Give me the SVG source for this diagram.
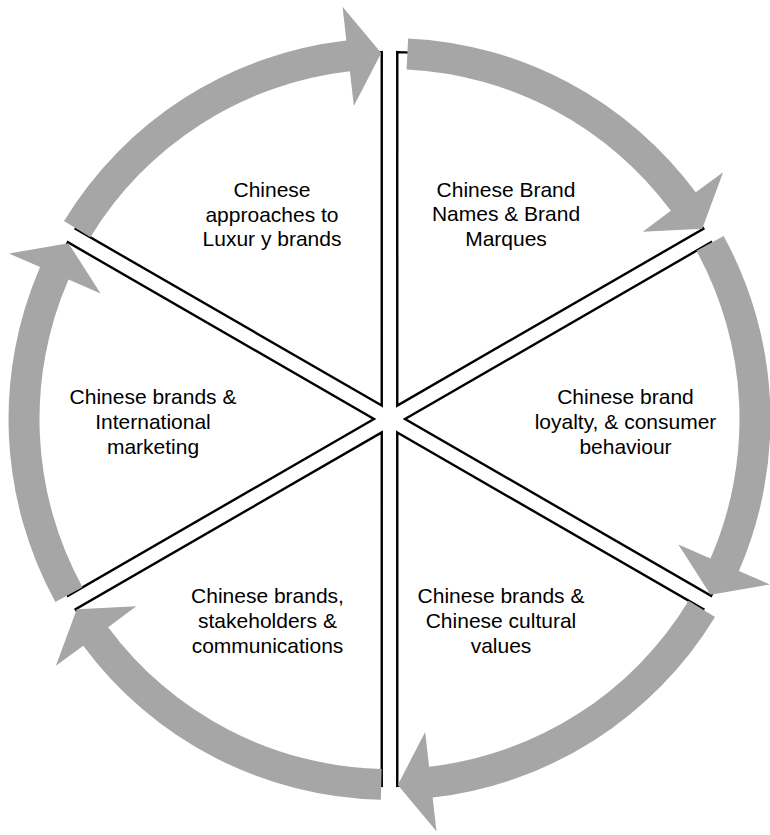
<svg xmlns="http://www.w3.org/2000/svg" xmlns:xlink="http://www.w3.org/1999/xlink" width="770" height="835" viewBox="0 0 770 835">
<style>
.sec{fill:none;stroke:#000;stroke-width:2.4;stroke-linejoin:miter}
.arr{fill:#a6a6a6;stroke:none}
text{font-family:"Liberation Sans",Arial,sans-serif;font-size:21px;fill:#000;text-anchor:middle}
</style>
<defs>
<path id="wedge" d="M13.42,-7.75 L190.17,-313.88 A367 367 0 0 1 366.92,-7.75 Z"/>
<path id="arrow" d="M197.9,-325.5 A381 381 0 0 1 378.55,-43.13 L412.33,-46.98 L365.91,-8.30 L312.97,-35.66 L347.75,-39.62 A350 350 0 0 0 181.8,-299.1 Z"/>
<path id="arrowB" d="M206.4,-320.3 A381 381 0 0 1 378.55,-43.13 L412.33,-46.98 L365.91,-8.30 L312.97,-35.66 L347.75,-39.62 A350 350 0 0 0 189.6,-294.2 Z"/>
</defs>
<rect width="770" height="835" fill="#fff"/>
<g id="sector-luxury">
<use xlink:href="#wedge" class="sec" transform="translate(389.5 419) rotate(-90)"/>
<text x="272" y="197">Chinese</text>
<text x="272" y="222">approaches to</text>
<text x="272" y="246">Luxur y brands</text>
</g>
<g id="sector-brand-names">
<use xlink:href="#wedge" class="sec" transform="translate(389.5 419) rotate(-30)"/>
<text x="506" y="197">Chinese Brand</text>
<text x="506" y="221">Names &amp; Brand</text>
<text x="506" y="246">Marques</text>
</g>
<g id="sector-loyalty">
<use xlink:href="#wedge" class="sec" transform="translate(389.5 419) rotate(30)"/>
<text x="625.5" y="404">Chinese brand</text>
<text x="625.5" y="428.5">loyalty, &amp; consumer</text>
<text x="625.5" y="454">behaviour</text>
</g>
<g id="sector-cultural">
<use xlink:href="#wedge" class="sec" transform="translate(389.5 419) rotate(90)"/>
<text x="501" y="603">Chinese brands &amp;</text>
<text x="501" y="628">Chinese cultural</text>
<text x="501" y="653">values</text>
</g>
<g id="sector-stakeholders">
<use xlink:href="#wedge" class="sec" transform="translate(389.5 419) rotate(150)"/>
<text x="267.5" y="603">Chinese brands,</text>
<text x="267.5" y="628">stakeholders &amp;</text>
<text x="267.5" y="653">communications</text>
</g>
<g id="sector-international">
<use xlink:href="#wedge" class="sec" transform="translate(389.5 419) rotate(-150)"/>
<text x="153" y="404">Chinese brands &amp;</text>
<text x="153" y="429">International</text>
<text x="153" y="453.5">marketing</text>
</g>
<g id="connectors">
<use xlink:href="#arrow" class="arr" transform="translate(389.5 419) rotate(-90)"/>
<use xlink:href="#arrowB" class="arr" transform="translate(389.5 419) rotate(-30)"/>
<use xlink:href="#arrow" class="arr" transform="translate(389.5 419) rotate(30)"/>
<use xlink:href="#arrow" class="arr" transform="translate(389.5 419) rotate(90)"/>
<use xlink:href="#arrow" class="arr" transform="translate(389.5 419) rotate(150)"/>
<use xlink:href="#arrow" class="arr" transform="translate(389.5 419) rotate(-150)"/>
</g>
</svg>
